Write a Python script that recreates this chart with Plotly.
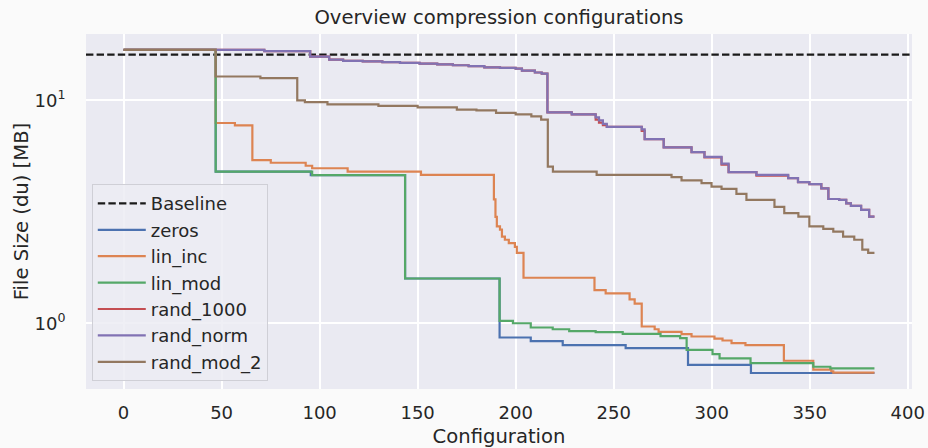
import plotly.graph_objects as go

# ---------------- data ----------------
baseline_mb = 16.05

zeros_x = [0, 47, 95.5, 143.6, 191.8, 207.7, 224, 256.1, 287.9, 320, 383]
zeros_y = [16.84, 4.79, 4.62, 1.588, 0.863, 0.831, 0.798, 0.774, 0.651, 0.598, 0.598]

lin_inc_x = [0, 47, 56.8, 65.7, 75.1, 92.9, 96.2, 114.3, 151.7, 188.9, 189.7, 190.4, 192,
             193, 194.5, 196.5, 199.6, 200.6, 204, 240.2, 245.9, 258.1, 260.7, 264.3, 270.9,
             272.9, 284.6, 289.7, 301.4, 305.5, 310.1, 317.2, 336.8, 351.8, 361, 362, 383]
lin_inc_y = [16.84, 7.92, 7.73, 5.40, 5.25, 5.09, 4.96, 4.79, 4.63, 3.6, 3.0, 2.72, 2.63,
             2.45, 2.37, 2.29, 2.2, 2.07, 1.60, 1.408, 1.361, 1.280, 1.224, 0.967, 0.940,
             0.915, 0.893, 0.872, 0.854, 0.837, 0.814, 0.798, 0.679, 0.619, 0.609, 0.601, 0.601]

lin_mod_x = [0, 47, 96.2, 143.6, 191.8, 198.6, 207.7, 218.9, 227.3, 240.8, 254.6, 273.9,
             283.9, 287.2, 300.4, 304, 319.8, 351.8, 360.5, 383]
lin_mod_y = [16.84, 4.79, 4.62, 1.588, 1.024, 1.0, 0.957, 0.940, 0.921, 0.912, 0.896, 0.875,
             0.857, 0.760, 0.727, 0.696, 0.663, 0.638, 0.628, 0.628]

rand_norm_x = [0, 71.8, 95.2, 104.9, 112, 122, 132, 141, 151, 160, 168, 176, 184, 192, 200,
               203.2, 209.8, 213.3, 216.2, 228.6, 240.8, 242.5, 244.5, 246.5, 264.3, 265.8,
               275.5, 289.7, 296.3, 305, 308.6, 322.8, 339, 344, 349.8, 355.9, 359.5, 365,
               368.6, 371, 376.2, 380.3, 383]
rand_norm_y = [16.84, 16.63, 15.72, 15.24, 15.05, 14.97, 14.85, 14.73, 14.63, 14.50, 14.38,
               14.25, 14.08, 14.0, 13.90, 13.61, 13.34, 13.20, 8.84, 8.66, 8.40, 8.14, 7.85,
               7.60, 7.42, 6.70, 6.15, 5.86, 5.58, 5.20, 4.77, 4.63, 4.48, 4.30, 4.21, 4.03,
               3.61, 3.58, 3.45, 3.36, 3.23, 3.01, 3.01]

rand_1000_x = [0, 71.8, 95.2, 104.9, 112, 122, 132, 141, 151, 160, 168, 176, 184, 192, 200,
               203.2, 209.8, 213.3, 216.2, 228.6, 240.8, 242.5, 244.5, 246.5, 264.3, 265.8,
               275.5, 289.7, 296.3, 305, 308.6, 322.8, 339, 344, 349.8, 355.9, 359.5, 365,
               368.6, 371, 376.2, 380.3, 383]
rand_1000_y = [16.84, 16.63, 15.72, 15.24, 15.05, 14.97, 14.85, 14.73, 14.63, 14.50, 14.38,
               14.25, 14.08, 14.0, 13.90, 13.61, 13.34, 13.20, 8.84, 8.66, 8.20, 7.95, 7.75,
               7.60, 7.30, 6.70, 6.15, 5.86, 5.55, 5.15, 4.77, 4.60, 4.48, 4.30, 4.21, 4.03,
               3.61, 3.58, 3.45, 3.36, 3.23, 3.01, 3.01]

rand_mod_2_x = [0, 47, 69.8, 88.6, 92.5, 104, 130, 150, 170, 180, 190, 200, 208, 213, 216.4,
                219, 241.3, 279.5, 284.6, 294.8, 299.9, 305, 312.6, 317.7, 332, 337, 344.2,
                349.8, 356.9, 362, 367, 372.7, 376.8, 379.8, 383]
rand_mod_2_y = [16.84, 12.80, 12.58, 10.0, 9.83, 9.60, 9.45, 9.31, 9.10, 9.02, 8.80, 8.66,
                8.48, 8.20, 5.04, 4.79, 4.63, 4.53, 4.38, 4.25, 4.10, 4.01, 3.81, 3.58, 3.33,
                3.12, 3.01, 2.72, 2.65, 2.58, 2.45, 2.37, 2.14, 2.07, 2.07]

x_range = [-19.15, 402.15]
x_ticks = [0, 50, 100, 150, 200, 250, 300, 350, 400]
y_ticks = [1, 10]
y_tick_text = ["10<sup>0</sup>", "10<sup>1</sup>"]

series = [
    ("zeros", zeros_x, zeros_y, "#4C72B0"),
    ("lin_inc", lin_inc_x, lin_inc_y, "#DD8452"),
    ("lin_mod", lin_mod_x, lin_mod_y, "#55A868"),
    ("rand_1000", rand_1000_x, rand_1000_y, "#C44E52"),
    ("rand_norm", rand_norm_x, rand_norm_y, "#8172B3"),
    ("rand_mod_2", rand_mod_2_x, rand_mod_2_y, "#937860"),
]

TEXT = "#262626"
FONT = "DejaVu Sans"

fig = go.Figure()
fig.add_trace(go.Scatter(
    x=x_range, y=[baseline_mb, baseline_mb], mode="lines", name="Baseline",
    line=dict(color="#1a1a1a", width=2.2, dash="7.4px,3.2px"),
))
for name, xs, ys, col in series:
    fig.add_trace(go.Scatter(
        x=xs, y=ys, mode="lines", name=name, line_shape="hv",
        line=dict(color=col, width=2.2),
    ))

fig.update_layout(
    width=928, height=448,
    margin=dict(l=86, r=16, t=34, b=59, autoexpand=False),
    paper_bgcolor="#FAFAFA", plot_bgcolor="#EAEAF2",
    font=dict(family=FONT, color=TEXT, size=18),
    title=dict(text="Overview compression configurations", x=0.5, xref="paper",
               y=1 - 17 / 448, yref="container", yanchor="middle", xanchor="center",
               font=dict(size=19.6, color=TEXT, family=FONT)),
    legend=dict(x=0.007, y=0.022, xanchor="left", yanchor="bottom",
                bgcolor="rgba(236,236,243,0.85)", bordercolor="#CFCFD6", borderwidth=1,
                font=dict(size=18, color=TEXT, family=FONT), itemwidth=48),
    showlegend=True,
)
fig.update_xaxes(
    range=x_range, tickvals=x_ticks, showgrid=True, gridcolor="white", gridwidth=1.6,
    zeroline=False, showline=False, ticks="outside", ticklen=7, tickcolor="rgba(0,0,0,0)",
    automargin=False,
    tickfont=dict(size=18, color=TEXT, family=FONT),
    title=dict(text="Configuration", font=dict(size=19.6, color=TEXT, family=FONT), standoff=9),
)
fig.update_yaxes(
    type="log", range=[-0.295, 1.298], tickvals=y_ticks, ticktext=y_tick_text,
    showgrid=True, gridcolor="white", gridwidth=1.6, zeroline=False, showline=False,
    ticks="outside", ticklen=16, tickcolor="rgba(0,0,0,0)", automargin=False,
    tickfont=dict(size=18, color=TEXT, family=FONT),
    title=dict(text="File Size (du) [MB]", font=dict(size=19.6, color=TEXT, family=FONT), standoff=0),
)

fig.write_html("out.html")
